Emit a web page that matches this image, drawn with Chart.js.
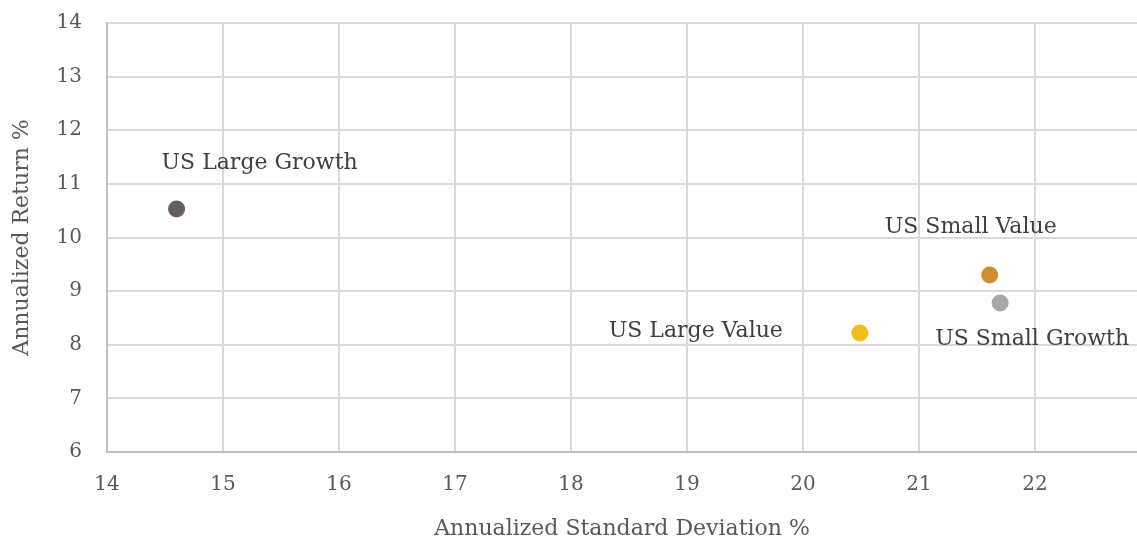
<!DOCTYPE html>
<html>
<head>
<meta charset="utf-8">
<script src="https://cdn.jsdelivr.net/npm/chart.js@4"></script>
<style>
  html, body { margin: 0; padding: 0; background: #fff; }
  #wrap { width: 1137px; height: 542px; }
</style>
</head>
<body>
<div id="wrap"><canvas id="chart" width="1137" height="542"></canvas></div>
<script>
// data
const assetNames = ['US Large Growth', 'US Small Value', 'US Small Growth', 'US Large Value'];
const stdDev = [14.6, 21.61, 21.7, 20.49];      // annualized standard deviation %
const annReturn = [10.53, 9.3, 8.78, 8.22];      // annualized return %
const pointColors = ['#685e56', '#cc8f2c', '#a8a8ac', '#f2bd1b'];

// label placement around each point (px offset from the point, centred text)
const labelOffsets = [[83, -46], [-19, -48], [32, 36], [-164, -2]];

const FONT = "'DejaVu Serif', serif";

const pointLabels = {
    id: 'pointLabels',
    afterDatasetsDraw(chart) {
        const ctx = chart.ctx;
        ctx.save();
        ctx.font = "22px " + FONT;
        ctx.fillStyle = '#404040';
        ctx.textAlign = 'center';
        ctx.textBaseline = 'middle';
        chart.data.datasets.forEach((ds, i) => {
            const el = chart.getDatasetMeta(i).data[0];
            const off = labelOffsets[i];
            ctx.fillText(ds.label, el.x + off[0], el.y + off[1]);
        });
        ctx.restore();
    }
};

const datasets = assetNames.map((name, i) => ({
    label: name,
    data: [{ x: stdDev[i], y: annReturn[i] }],
    backgroundColor: pointColors[i],
    borderColor: pointColors[i],
    pointRadius: 8.5,
    pointHoverRadius: 8.5,
    borderWidth: 0
}));

new Chart(document.getElementById('chart'), {
    type: 'scatter',
    data: { datasets },
    options: {
        responsive: false,
        animation: false,
        layout: { autoPadding: false, padding: { top: 23, right: 0, left: 0, bottom: 0 } },
        plugins: {
            legend: { display: false },
            tooltip: { enabled: false }
        },
        scales: {
            x: {
                type: 'linear',
                min: 14,
                max: 22.88,
                afterFit: (s) => { s.height = 90; s.paddingLeft = 0; s.paddingRight = 0; },
                grid: { color: '#d9d9d9', lineWidth: 2, drawTicks: false },
                border: { color: '#bfbfbf', width: 2 },
                ticks: {
                    stepSize: 1,
                    includeBounds: false,
                    padding: 21,
                    color: '#595959',
                    font: { family: FONT, size: 20 }
                },
                title: {
                    display: true,
                    text: 'Annualized Standard Deviation %',
                    color: '#595959',
                    font: { family: FONT, size: 22 },
                    padding: { top: 0, bottom: 0 }
                }
            },
            y: {
                type: 'linear',
                min: 6,
                max: 14,
                afterFit: (s) => { s.width = 107; s.paddingTop = 0; s.paddingBottom = 0; },
                grid: { color: '#d9d9d9', lineWidth: 2, drawTicks: false },
                border: { color: '#bfbfbf', width: 2 },
                ticks: {
                    stepSize: 1,
                    padding: 25,
                    color: '#595959',
                    font: { family: FONT, size: 20 }
                },
                title: {
                    display: true,
                    text: 'Annualized Return %',
                    color: '#595959',
                    font: { family: FONT, size: 22 },
                    padding: { top: 9, bottom: 0 }
                }
            }
        }
    },
    plugins: [pointLabels]
});
</script>
</body>
</html>
